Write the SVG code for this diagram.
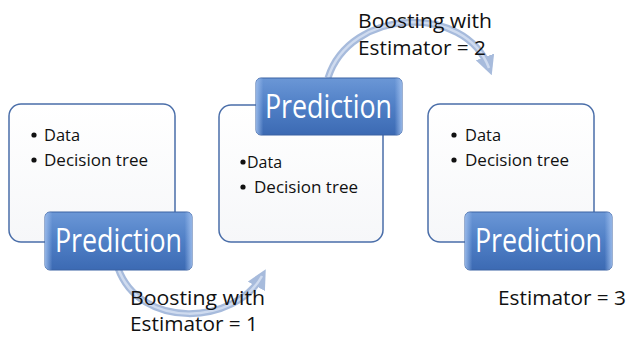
<svg xmlns="http://www.w3.org/2000/svg" width="627" height="337" viewBox="0 0 627 337">
<defs>
<linearGradient id="boxFill" x1="0" y1="0" x2="0" y2="1">
<stop offset="0" stop-color="#ffffff"/>
<stop offset="1" stop-color="#f6f7f9"/>
</linearGradient>
<linearGradient id="predFill" x1="0" y1="0" x2="0" y2="1">
<stop offset="0" stop-color="#6b97d6"/>
<stop offset="0.5" stop-color="#4f7fc6"/>
<stop offset="1" stop-color="#3c6ab3"/>
</linearGradient>
<linearGradient id="predEdge" x1="0" y1="0" x2="1" y2="0">
<stop offset="0" stop-color="#9dbdec" stop-opacity="0.9"/>
<stop offset="0.05" stop-color="#9dbdec" stop-opacity="0"/>
<stop offset="0.95" stop-color="#9dbdec" stop-opacity="0"/>
<stop offset="1" stop-color="#9dbdec" stop-opacity="0.9"/>
</linearGradient>
<marker id="arrow" viewBox="0 0 10 10" refX="6" refY="5" markerWidth="2.8" markerHeight="2.8" orient="auto" markerUnits="strokeWidth">
<path d="M0,0 L10,5 L0,10 Z" fill="#a7bbdc"/>
</marker>
<style>
.box{fill:url(#boxFill);stroke:#4a6ea9;stroke-width:1.5}
.pred{fill:url(#predFill);stroke:#3b62a3;stroke-width:1}
.predhl{fill:url(#predEdge);stroke:none}
.predtxt{font-family:"Open Sans","Noto Sans",sans-serif;font-size:33px;fill:#ffffff}
.item{font-family:"Open Sans","Noto Sans",sans-serif;font-size:16px;fill:#111111}
.dot{fill:#111111}
.label{font-family:"Open Sans","Noto Sans",sans-serif;font-size:20px;fill:#111111}
.arc{fill:none;stroke:#a7bbdc;stroke-width:7}
.arcin{fill:none;stroke:#cfdbef;stroke-width:2.5}
</style>
</defs>
<rect width="627" height="337" fill="#ffffff"/>

<g id="connectors">
<path class="arc" d="M118,268 C140,330 235,325 262,276" marker-end="url(#arrow)"/>
<path class="arcin" d="M118,268 C140,330 235,325 262,276"/>
<path class="arc" d="M328,78 C350,8 465,3 489,68" marker-end="url(#arrow)"/>
<path class="arcin" d="M328,78 C350,8 465,3 489,68"/>
</g>

<g id="node1">
<rect class="box" x="9" y="104" width="166" height="138" rx="12"/>
<circle class="dot" cx="34" cy="135" r="2.6"/>
<text class="item" x="44" y="141" textLength="36" lengthAdjust="spacingAndGlyphs">Data</text>
<circle class="dot" cx="34" cy="160" r="2.6"/>
<text class="item" x="44" y="166" textLength="104" lengthAdjust="spacingAndGlyphs">Decision tree</text>
</g>
<g id="pred1">
<rect class="pred" x="45" y="212" width="147" height="58" rx="5"/>
<rect class="predhl" x="45" y="212" width="147" height="58" rx="5"/>
<text class="predtxt" x="55" y="252" textLength="127" lengthAdjust="spacingAndGlyphs">Prediction</text>
</g>

<g id="node2">
<rect class="box" x="219" y="105" width="164" height="137" rx="12"/>
<circle class="dot" cx="243" cy="162" r="2.6"/>
<text class="item" x="247" y="168" textLength="35" lengthAdjust="spacingAndGlyphs">Data</text>
<circle class="dot" cx="243" cy="187" r="2.6"/>
<text class="item" x="254" y="193" textLength="104" lengthAdjust="spacingAndGlyphs">Decision tree</text>
</g>
<g id="pred2">
<rect class="pred" x="256" y="78" width="146" height="57" rx="5"/>
<rect class="predhl" x="256" y="78" width="146" height="57" rx="5"/>
<text class="predtxt" x="265" y="118" textLength="127" lengthAdjust="spacingAndGlyphs">Prediction</text>
</g>

<g id="node3">
<rect class="box" x="428" y="104" width="166" height="138" rx="12"/>
<circle class="dot" cx="454" cy="135" r="2.6"/>
<text class="item" x="465" y="141" textLength="36" lengthAdjust="spacingAndGlyphs">Data</text>
<circle class="dot" cx="454" cy="160" r="2.6"/>
<text class="item" x="465" y="166" textLength="104" lengthAdjust="spacingAndGlyphs">Decision tree</text>
</g>
<g id="pred3">
<rect class="pred" x="465" y="212" width="147" height="58" rx="5"/>
<rect class="predhl" x="465" y="212" width="147" height="58" rx="5"/>
<text class="predtxt" x="475" y="252" textLength="127" lengthAdjust="spacingAndGlyphs">Prediction</text>
</g>

<g id="labels">
<text class="label" x="130" y="305" textLength="135" lengthAdjust="spacingAndGlyphs">Boosting with</text>
<text class="label" x="130" y="331" textLength="128" lengthAdjust="spacingAndGlyphs">Estimator = 1</text>
<text class="label" x="358" y="28" textLength="134" lengthAdjust="spacingAndGlyphs">Boosting with</text>
<text class="label" x="358" y="55" textLength="128" lengthAdjust="spacingAndGlyphs">Estimator = 2</text>
<text class="label" x="498" y="305" textLength="128" lengthAdjust="spacingAndGlyphs">Estimator = 3</text>
</g>
</svg>
